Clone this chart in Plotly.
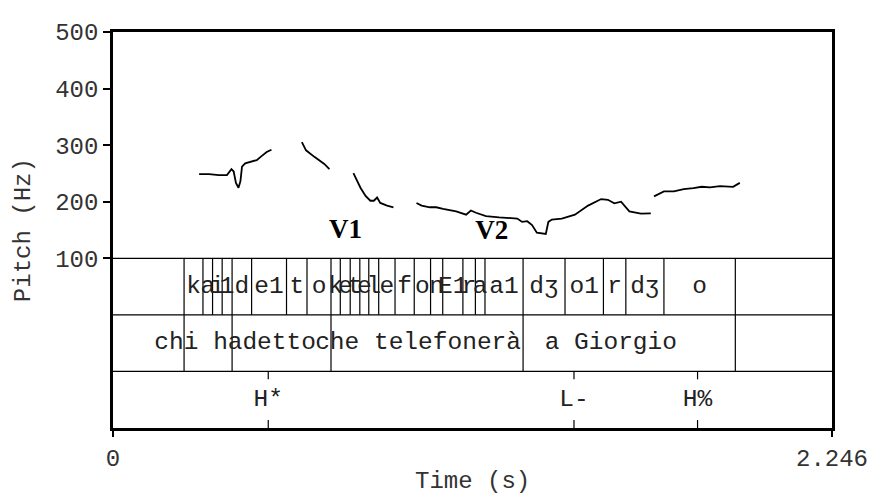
import plotly.graph_objects as go

# ---------------- data ----------------
T_MAX = 2.246

# pitch contour segments (time s, pitch Hz)
seg1_t = [0.269, 0.300, 0.331, 0.356, 0.370, 0.377, 0.384, 0.392, 0.398, 0.403, 0.413, 0.433, 0.449, 0.464, 0.480, 0.495]
seg1_f = [248.8, 248.8, 247.0, 247.0, 257.4, 253.4, 233.3, 224.7, 236.2, 262.0, 267.8, 270.7, 273.6, 280.5, 287.9, 291.9]
seg2_t = [0.590, 0.603, 0.629, 0.660, 0.676]
seg2_f = [305.2, 290.9, 279.3, 266.7, 257.4]
seg3_t = [0.751, 0.773, 0.789, 0.804, 0.815, 0.825, 0.835, 0.856, 0.876]
seg3_f = [250.5, 224.7, 210.3, 201.7, 201.7, 207.4, 197.8, 193.1, 190.2]
seg4_t = [0.948, 0.964, 0.990, 1.010, 1.031, 1.072, 1.103, 1.118, 1.134, 1.165, 1.206, 1.263, 1.278, 1.294,
          1.309, 1.324, 1.352, 1.360, 1.371, 1.402, 1.443, 1.484, 1.525, 1.546, 1.566, 1.587, 1.613, 1.649, 1.680]
seg4_f = [197.8, 193.1, 190.2, 190.2, 187.4, 182.8, 177.1, 184.5, 180.5, 174.7, 172.4, 170.2, 164.3, 165.5,
          158.6, 145.3, 143.1, 164.3, 168.4, 170.2, 177.1, 193.1, 204.7, 203.4, 197.1, 200.0, 182.8, 178.8, 179.3]
seg5_t = [1.690, 1.705, 1.721, 1.752, 1.783, 1.813, 1.839, 1.865, 1.896, 1.937, 1.947, 1.958]
seg5_f = [209.5, 213.6, 218.1, 218.1, 222.2, 224.1, 226.4, 225.3, 227.6, 226.4, 229.3, 233.3]

# tier 1: phones
phone_bounds = [0.222, 0.281, 0.311, 0.341, 0.372, 0.433, 0.542, 0.606, 0.681, 0.710, 0.741, 0.771, 0.799,
                0.830, 0.881, 0.941, 0.992, 1.030, 1.093, 1.132, 1.162, 1.281, 1.412, 1.532, 1.602, 1.721, 1.944]
phone_labels = ["", "k", "a", "i", "1", "d", "e1", "t", "o", "k", "e", "t", "e", "l", "e", "f", "o", "n",
                "E1", "r", "a", "a1", "dʒ", "o1", "r", "dʒ", "o", ""]

# tier 2: words (interval boundaries, labels and label positions)
word_bounds = [0.222, 0.372, 0.681, 1.281, 1.944]
word_labels = ["chi ha", "detto", "che telefonerà", "a Giorgio"]
word_label_t = [0.267, 0.519, 0.953, 1.555]

# tier 3: tones (points)
tone_times = [0.485, 1.440, 1.826]
tone_labels = ["H*", "L-", "H%"]

# vowel markers
vowel_labels = ["V1", "V2"]
vowel_t = [0.726, 1.183]
vowel_f = [148.0, 146.0]

y_ticks = [100, 200, 300, 400, 500]
x_ticks = [0, T_MAX]
x_ticktext = ["0", "2.246"]

# tier geometry in pitch-axis units
TIER_TOP = [100, 0, -100]
TIER_H = 100
Y_MIN = -200
Y_MAX = 500

MONO = "Courier New, Liberation Mono, monospace"
SERIF = "Times New Roman, Liberation Serif, serif"

# ---------------- figure ----------------
fig = go.Figure()

pt, pf = [], []
for ts, fs in [(seg1_t, seg1_f), (seg2_t, seg2_f), (seg3_t, seg3_f), (seg4_t, seg4_f), (seg5_t, seg5_f)]:
    pt += ts + [None]
    pf += fs + [None]
fig.add_trace(go.Scatter(x=pt, y=pf, mode="lines", line=dict(color="black", width=1.8),
                         hoverinfo="skip", showlegend=False))

# tier lines
lx, ly = [], []
for yb in TIER_TOP[1:] + [TIER_TOP[0]]:
    lx += [0, T_MAX, None]
    ly += [yb, yb, None]
for b in phone_bounds:
    lx += [b, b, None]
    ly += [TIER_TOP[0], TIER_TOP[0] - TIER_H, None]
for b in word_bounds:
    lx += [b, b, None]
    ly += [TIER_TOP[1], TIER_TOP[1] - TIER_H, None]
tick_len = 14
for t in tone_times:
    lx += [t, t, None, t, t, None]
    ly += [TIER_TOP[2], TIER_TOP[2] - tick_len, None, TIER_TOP[2] - TIER_H + tick_len, TIER_TOP[2] - TIER_H, None]
fig.add_trace(go.Scatter(x=lx, y=ly, mode="lines", line=dict(color="black", width=1.2),
                         hoverinfo="skip", showlegend=False))

edges = [0] + phone_bounds + [T_MAX]
px_, pl_ = [], []
for i, lab in enumerate(phone_labels):
    if lab:
        px_.append((edges[i] + edges[i + 1]) / 2)
        pl_.append(lab)

TXT = dict(family=MONO, size=24.5, color="#222")
fig.add_trace(go.Scatter(x=px_, y=[TIER_TOP[0] - TIER_H / 2] * len(px_), mode="text", text=pl_,
                         textposition="middle center", textfont=TXT, hoverinfo="skip", showlegend=False))
fig.add_trace(go.Scatter(x=word_label_t, y=[TIER_TOP[1] - TIER_H / 2] * len(word_label_t), mode="text",
                         text=word_labels, textposition="middle center", textfont=TXT,
                         hoverinfo="skip", showlegend=False))
fig.add_trace(go.Scatter(x=tone_times, y=[TIER_TOP[2] - TIER_H / 2] * len(tone_times), mode="text",
                         text=tone_labels, textposition="middle center", textfont=TXT,
                         hoverinfo="skip", showlegend=False))

fig.add_trace(go.Scatter(x=vowel_t, y=vowel_f, mode="text", text=["<b>%s</b>" % v for v in vowel_labels],
                         textposition="middle center",
                         textfont=dict(family=SERIF, size=27, color="black"), hoverinfo="skip", showlegend=False))

axis_common = dict(showgrid=False, zeroline=False, showline=True, linecolor="black", linewidth=2.5,
                   mirror=True, ticks="outside", tickcolor="black", tickwidth=2,
                   tickfont=dict(family=MONO, size=24, color="#333"))
# the page body adds an 8px offset, so the figure is 8px smaller and margins shifted
fig.update_layout(
    width=872, height=490,
    margin=dict(l=105, r=40, t=14, b=70),
    paper_bgcolor="white", plot_bgcolor="white",
    xaxis=dict(range=[0, T_MAX], tickvals=x_ticks, ticktext=x_ticktext, ticklen=6, **axis_common),
    yaxis=dict(range=[Y_MIN, Y_MAX], tickvals=y_ticks, ticklen=7, **axis_common),
    annotations=[
        dict(text="Pitch (Hz)", xref="paper", yref="paper", x=-0.125, y=0.5, textangle=-90,
             showarrow=False, xanchor="center", yanchor="middle",
             font=dict(family=MONO, size=24, color="#333")),
        dict(text="Time (s)", xref="paper", yref="paper", x=0.5, y=-0.135,
             showarrow=False, xanchor="center", yanchor="middle",
             font=dict(family=MONO, size=24, color="#333")),
    ],
)

fig.write_html("out.html")
